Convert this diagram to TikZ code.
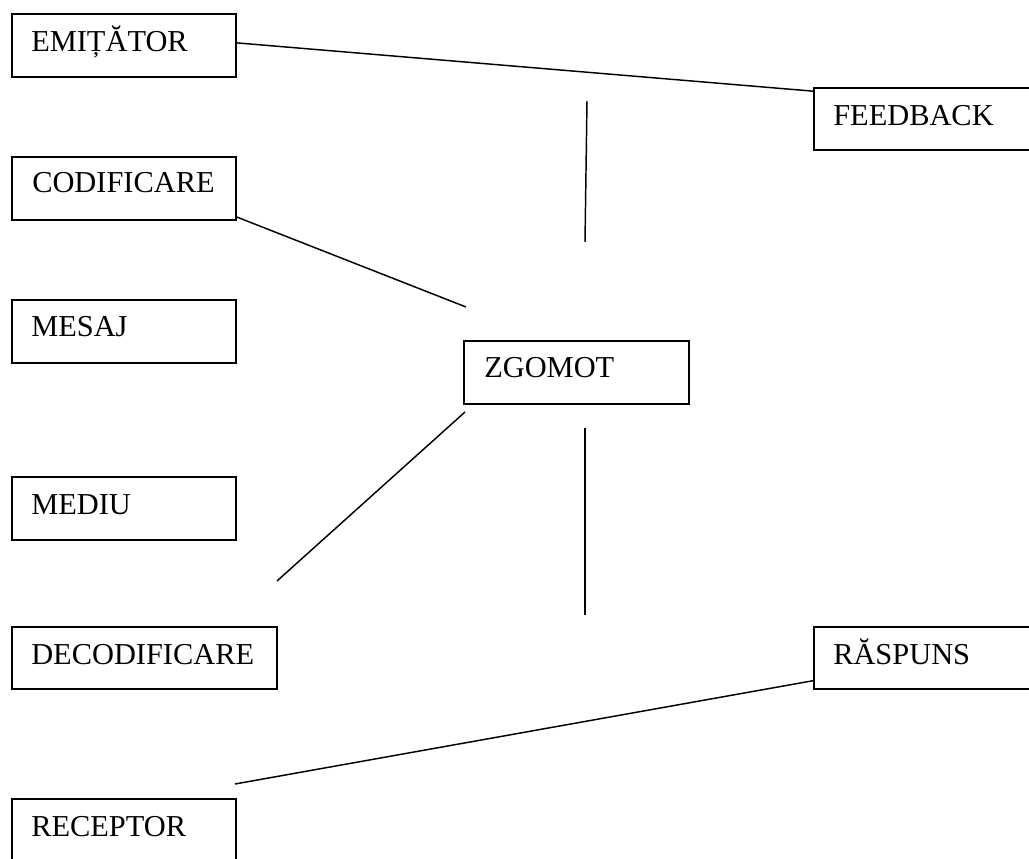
\documentclass[tikz,border=0pt]{standalone}
\usepackage{fontspec}
\setmainfont{Liberation Serif}
\usetikzlibrary{calc}
\tikzset{
  box/.style={draw=black, line width=1.5pt, fill=none, inner sep=0pt},
  lbl/.style={inner sep=0pt, anchor=base west, font=\fontsize{22.8pt}{26pt}\selectfont},
  conn/.style={draw=black, line width=1.1pt},
}
\newcommand{\bx}[5]{% name, x1, y1, x2, y2
  \node[box, minimum width={(#4-#2)*0.75pt}, minimum height={(#5-#3)*0.75pt}] (#1) at ({(#2+#4)/2},{(#3+#5)/2}) {};}
\begin{document}
\begin{tikzpicture}[x=0.75pt, y=-0.75pt]
\useasboundingbox (0,0) rectangle (1029,859);
\clip (0,0) rectangle (1029,859);
\fill[white] (0,0) rectangle (1029,859);
% boxes
\bx{emit}{12}{14}{236}{77}
\bx{feed}{814}{88}{1045}{150}
\bx{codif}{12}{157}{236}{220}
\bx{mesaj}{12}{300}{236}{363}
\bx{zgomot}{464}{341}{689}{404}
\bx{mediu}{12}{477}{236}{540}
\bx{decod}{12}{627}{277}{689}
\bx{rasp}{814}{627}{1045}{689}
\bx{recept}{12}{799}{236}{875}
% labels
\node[lbl] (emitT) at (31,52) {EMIȚĂTOR};
\node[lbl] (feedT) at (833,126) {FEEDBACK};
\node[lbl] (codifT) at (32,193) {CODIFICARE};
\node[lbl] (mesajT) at (31,337) {MESAJ};
\node[lbl] (zgomotT) at (484,378) {ZGOMOT};
\node[lbl] (mediuT) at (31,514) {MEDIU};
\node[lbl] (decodT) at (31,664) {DECODIFICARE};
\node[lbl] (raspT) at (833,664) {RĂSPUNS};
\node[lbl] (receptT) at (31,836) {RECEPTOR};
% free ends
\coordinate (c1) at (466,307);
\coordinate (v1a) at (587,101);
\coordinate (v1b) at (585,242);
\coordinate (z1) at (465,412);
\coordinate (d1) at (277,581);
\coordinate (v2a) at (585,428);
\coordinate (v2b) at (585,615);
\coordinate (r1) at (235,784);
% connectors
\draw[conn] ($(emit.north east)!0.46!(emit.south east)$) -- ($(feed.north west)!0.065!(feed.south west)$);
\draw[conn] (v1a) -- (v1b);
\draw[conn] ($(codif.north east)!0.94!(codif.south east)$) -- (c1);
\draw[conn] (z1) -- (d1);
\draw[conn] (v2a) -- (v2b);
\draw[conn] ($(rasp.north west)!0.855!(rasp.south west)$) -- (r1);
\end{tikzpicture}
\end{document}
